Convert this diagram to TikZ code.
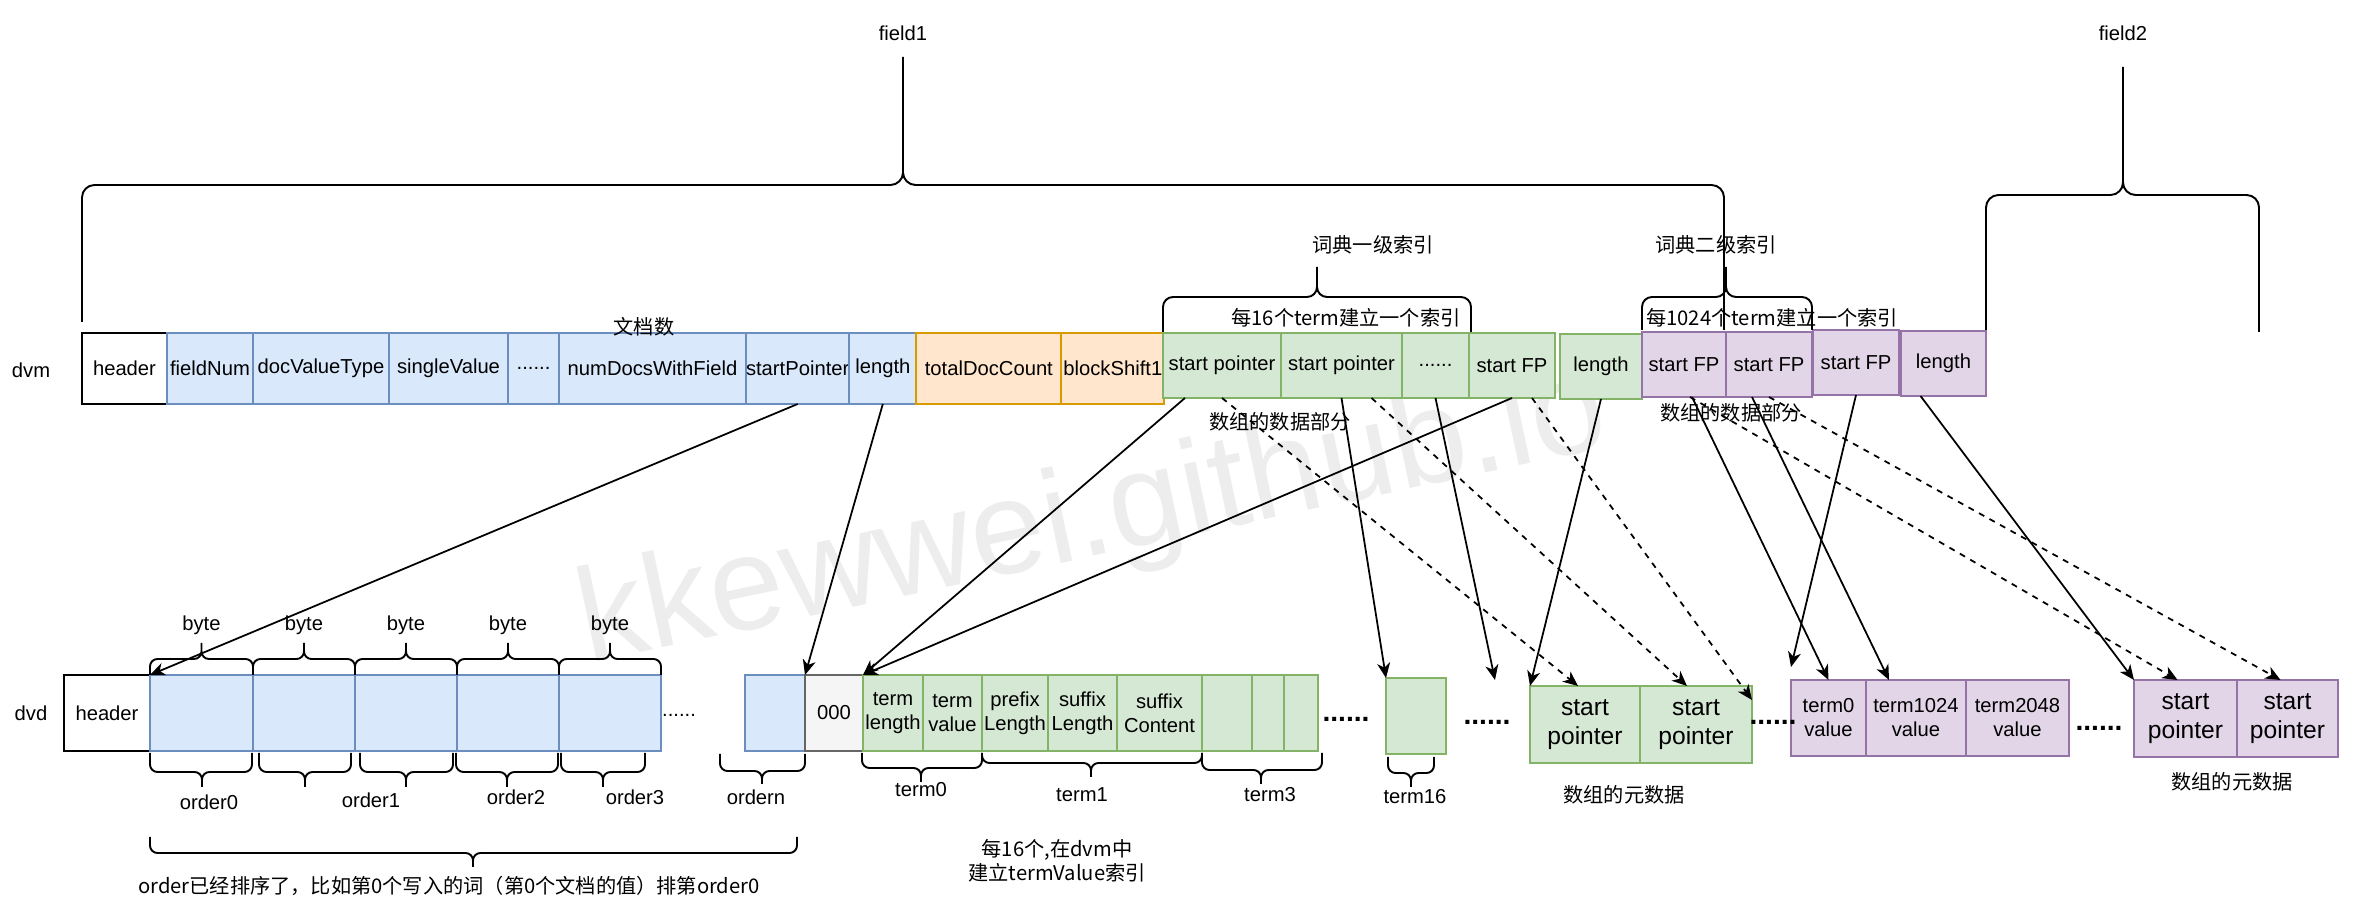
\documentclass[tikz,border=0pt]{standalone}
\usepackage{fontspec}
\setmainfont{Liberation Sans}
\newfontfamily\cjk{Noto Sans CJK SC}
\usetikzlibrary{positioning,arrows.meta}

\definecolor{bluefill}{HTML}{DAE8FC}
\definecolor{blueline}{HTML}{6C8EBF}
\definecolor{orangefill}{HTML}{FFE6CC}
\definecolor{orangeline}{HTML}{D79B00}
\definecolor{greenfill}{HTML}{D5E8D4}
\definecolor{greenline}{HTML}{82B366}
\definecolor{purplefill}{HTML}{E1D5E7}
\definecolor{purpleline}{HTML}{9673A6}
\definecolor{greyfill}{HTML}{F5F5F5}
\definecolor{greyline}{HTML}{666666}

\tikzset{
  cell/.style={rectangle, inner sep=0pt, outer sep=0pt, line width=1pt,
    align=center, minimum height=1.52cm},
  plaincell/.style={cell, draw=black, fill=white},
  bluecell/.style={cell, draw=blueline, fill=bluefill},
  orangecell/.style={cell, draw=orangeline, fill=orangefill},
  greencell/.style={cell, draw=greenline, fill=greenfill},
  purplecell/.style={cell, draw=purpleline, fill=purplefill},
  greycell/.style={cell, draw=greyline, fill=greyfill},
  mrow/.style={minimum height=1.42cm},
  nrow/.style={minimum height=1.30cm},
  zh/.style={font=\fontsize{11.5}{13.6}\selectfont\cjk},
  big/.style={font=\fontsize{14}{16.5}\selectfont},
  dotsfont/.style={font=\fontsize{16}{18}\selectfont\bfseries},
  ptr/.style={-{Stealth[length=3mm,width=2.6mm,inset=0.9mm]}, line width=1pt},
  dptr/.style={ptr, dash pattern=on 1.2mm off 1.2mm},
  curly/.style={line width=1.1pt},
}

\begin{document}
\begin{tikzpicture}[node distance=0pt,
  every node/.style={font=\fontsize{11.5}{13.6}\selectfont}]
  \useasboundingbox (0,0) rectangle (47.24,18.16);

  % watermark
  \node[rotate=12, anchor=base, text=black!7,
    font=\fontsize{76}{80}\selectfont] (mark) at (22.00,7.06) {kkewwei.github.io};

  % dvm row
  \node (dvm) at (0.62,10.76) {dvm};
  \node[plaincell, mrow, minimum width=1.70cm, anchor=north west] (mhead) at (1.64,11.50) {header};
  \node[bluecell, mrow, minimum width=1.72cm, right=of mhead] (fnum) {fieldNum};
  \node[bluecell, mrow, minimum width=2.72cm, right=of fnum] (dvtype) {docValueType};
  \node[bluecell, mrow, minimum width=2.38cm, right=of dvtype] (single) {singleValue};
  \node[bluecell, mrow, minimum width=1.02cm, right=of single] (mdots) {......};
  \node[bluecell, mrow, minimum width=3.74cm, right=of mdots] (ndocs) {numDocsWithField};
  \node[bluecell, mrow, minimum width=2.04cm, right=of ndocs] (mstart) {startPointer};
  \node[bluecell, mrow, minimum width=1.34cm, right=of mstart] (mlen) {length};
  \node[orangecell, mrow, minimum width=2.90cm, right=of mlen] (total) {totalDocCount};
  \node[orangecell, mrow, minimum width=2.06cm, right=of total] (shift) {blockShift1};

  % dictionary index, level one
  \node[greencell, nrow, minimum width=2.36cm, anchor=north west] (gsp1) at (23.26,11.50) {start pointer};
  \node[greencell, nrow, minimum width=2.42cm, right=of gsp1] (gsp2) {start pointer};
  \node[greencell, nrow, minimum width=1.34cm, right=of gsp2] (gdots) {......};
  \node[greencell, nrow, minimum width=1.72cm, right=of gdots] (gsfp) {start FP};
  \node[greencell, nrow, minimum width=1.64cm, anchor=north west] (glen) at (31.20,11.48) {length};

  % dictionary index, level two
  \node[purplecell, nrow, minimum width=1.68cm, anchor=north west] (psfp1) at (32.84,11.52) {start FP};
  \node[purplecell, nrow, minimum width=1.72cm, right=of psfp1] (psfp2) {start FP};
  \node[purplecell, nrow, minimum width=1.72cm, anchor=north west] (psfp3) at (36.26,11.56) {start FP};
  \node[purplecell, nrow, minimum width=1.70cm, anchor=north west] (plen) at (38.02,11.54) {length};

  % dvd row
  \node (dvd) at (0.62,3.90) {dvd};
  \node[plaincell, minimum width=1.72cm, anchor=north west] (dhead) at (1.28,4.66) {header};
  \node[bluecell, minimum width=2.06cm, right=of dhead] (ord0) {};
  \node[bluecell, minimum width=2.04cm, right=of ord0] (ord1) {};
  \node[bluecell, minimum width=2.04cm, right=of ord1] (ord2) {};
  \node[bluecell, minimum width=2.04cm, right=of ord2] (ord3) {};
  \node[bluecell, minimum width=2.04cm, right=of ord3] (ord4) {};
  \node[bluecell, minimum width=1.20cm, anchor=north west] (ordn) at (14.90,4.66) {};
  \node[greycell, minimum width=1.16cm, right=of ordn] (zero) {000};
  \node[greencell, minimum width=1.20cm, right=of zero] (tlen) {term\\length};
  \node[greencell, minimum width=1.18cm, right=of tlen] (tval) {term\\value};
  \node[greencell, minimum width=1.32cm, right=of tval] (prelen) {prefix\\Length};
  \node[greencell, minimum width=1.38cm, right=of prelen] (suflen) {suffix\\Length};
  \node[greencell, minimum width=1.70cm, right=of suflen] (sufcon) {suffix\\Content};
  \node[greencell, minimum width=1.00cm, right=of sufcon] (tA) {};
  \node[greencell, minimum width=0.64cm, right=of tA] (tB) {};
  \node[greencell, minimum width=0.68cm, right=of tB] (tC) {};
  \node[greencell, minimum width=1.20cm, anchor=north west] (t16) at (27.72,4.60) {};

  % array metadata
  \node[greencell, big, minimum width=2.20cm, minimum height=1.54cm, anchor=north west] (msp1) at (30.60,4.44) {start\\pointer};
  \node[greencell, big, minimum width=2.24cm, minimum height=1.54cm, right=of msp1] (msp2) {start\\pointer};
  \node[purplecell, minimum width=1.50cm, anchor=north west] (tv0) at (35.82,4.56) {term0\\value};
  \node[purplecell, minimum width=2.00cm, right=of tv0] (tv1) {term1024\\value};
  \node[purplecell, minimum width=2.06cm, right=of tv1] (tv2) {term2048\\value};
  \node[purplecell, big, minimum width=2.06cm, minimum height=1.54cm, anchor=north west] (psp1) at (42.68,4.56) {start\\pointer};
  \node[purplecell, big, minimum width=2.02cm, minimum height=1.54cm, right=of psp1] (psp2) {start\\pointer};

  % loose texts
  \node[zh] (docs) at (12.88,11.62) {文档数};
  \node[zh] (data1) at (25.60,9.72) {数组的数据部分};
  \node[zh] (data2) at (34.62,9.90) {数组的数据部分};
  \node[zh] (meta1) at (32.48,2.26) {数组的元数据};
  \node[zh] (meta2) at (44.64,2.52) {数组的元数据};
  \node (gap0) at (13.58,3.86) {......};
  \node[dotsfont] (gap1) at (26.92,3.78) {......};
  \node[dotsfont] (gap2) at (29.74,3.72) {......};
  \node[dotsfont] (gap3) at (35.46,3.72) {......};
  \node[dotsfont] (gap4) at (41.98,3.60) {......};
  \coordinate (dotsend) at (29.90,4.56);

  % braces
  \foreach \a/\b [count=\i] in {3.00/5.06, 5.06/7.10, 7.10/9.14, 9.14/11.18, 11.18/13.22} {
    \draw[curly, rounded corners=0.15cm]
      (\a,4.66) -- (\a,4.98) -- ({(\a+\b)/2},4.98) -- ({(\a+\b)/2},5.30)
      (\b,4.66) -- (\b,4.98) -- ({(\a+\b)/2},4.98) -- ({(\a+\b)/2},5.30);
    \node (byte\i) at ({(\a+\b)/2},5.66) {byte};
  }
  \foreach \a/\b/\m/\ya/\yb/\yh/\yt/\r in {
      1.64/34.48/18.06/11.72/11.56/14.46/17.02/0.25,
      39.72/45.18/42.46/11.56/11.52/14.26/16.82/0.25,
      23.26/29.42/26.34/11.52/11.52/12.22/12.82/0.2,
      32.84/36.24/34.52/11.56/11.56/12.22/12.82/0.2,
      3.00/5.04/4.04/3.10/3.10/2.72/2.42/0.15,
      5.18/7.02/6.10/3.10/3.10/2.72/2.42/0.15,
      7.20/9.06/8.12/3.10/3.10/2.72/2.42/0.15,
      9.12/11.16/10.14/3.10/3.10/2.72/2.42/0.15,
      11.22/12.90/12.06/3.10/3.10/2.72/2.42/0.15,
      14.40/16.10/15.24/3.08/3.08/2.74/2.48/0.15,
      17.24/19.64/18.42/3.10/3.10/2.80/2.52/0.15,
      19.64/24.04/21.82/3.10/3.10/2.90/2.62/0.15,
      24.04/26.44/25.22/3.10/3.10/2.76/2.48/0.15,
      27.76/28.68/28.22/3.02/3.02/2.70/2.42/0.15,
      3.00/15.94/9.46/1.42/1.42/1.10/0.82/0.15} {
    \draw[curly, rounded corners=\r cm]
      (\a,\ya) -- (\a,\yh) -- (\m,\yh) -- (\m,\yt)
      (\b,\yb) -- (\b,\yh) -- (\m,\yh) -- (\m,\yt);
  }

  % brace labels
  \node (field1) at (18.06,17.50) {field1};
  \node (field2) at (42.46,17.50) {field2};
  \node[zh] (dict1) at (27.46,13.26) {词典一级索引};
  \node[zh] (dict2) at (34.32,13.26) {词典二级索引};
  \node[zh] (per16) at (26.92,11.80) {每16个term建立一个索引};
  \node[zh] (per1024) at (35.44,11.80) {每1024个term建立一个索引};
  \node (order0) at (4.18,2.12) {order0};
  \node (order1) at (7.42,2.16) {order1};
  \node (order2) at (10.32,2.22) {order2};
  \node (order3) at (12.70,2.22) {order3};
  \node (ordern) at (15.12,2.22) {ordern};
  \node (term0) at (18.42,2.36) {term0};
  \node (term1) at (21.64,2.26) {term1};
  \node (term3) at (25.40,2.26) {term3};
  \node (term16) at (28.30,2.22) {term16};
  \node[zh, align=center] (note16) at (21.14,0.94) {每16个,在dvm中\\建立termValue索引};
  \node[zh] (sorted) at (8.98,0.44) {order已经排序了，比如第0个写入的词（第0个文档的值）排第order0};

  % pointers from dvm into dvd
  \draw[ptr] (mstart.south) -- (ord0.north west);
  \draw[ptr] (mlen.south) -- (ordn.north east);
  \draw[ptr] ([xshift=-0.74cm]gsp1.south) -- (tlen.north west);
  \draw[ptr] (gsfp.south) -- (tlen.north west);
  \draw[ptr] (gsp2.south) -- (t16.north west);
  \draw[ptr] (gdots.south) -- (dotsend);
  \draw[ptr] (glen.south) -- (msp1.north west);
  \draw[dptr] (gsp1.south) -- ([xshift=-0.14cm]msp1.north);
  \draw[dptr] ([xshift=0.6cm]gsp2.south) -- ([xshift=-0.18cm]msp2.north);
  \draw[dptr] ([xshift=0.4cm]gsfp.south) -- ([yshift=-0.28cm]msp2.north east);
  \draw[ptr] ([xshift=0.16cm]psfp1.south) -- (tv0.north);
  \draw[ptr] ([xshift=-0.34cm]psfp2.south) -- ([xshift=0.46cm]tv1.north west);
  \draw[ptr] (psfp3.south) -- ([yshift=0.26cm]tv0.north west);
  \draw[ptr] ([xshift=-0.46cm]plen.south) -- (psp1.north west);
  \draw[dptr] ([xshift=0.12cm]psfp1.south) -- ([xshift=-0.16cm]psp1.north);
  \draw[dptr] (psfp2.south) -- ([xshift=-0.14cm]psp2.north);
\end{tikzpicture}
\end{document}
